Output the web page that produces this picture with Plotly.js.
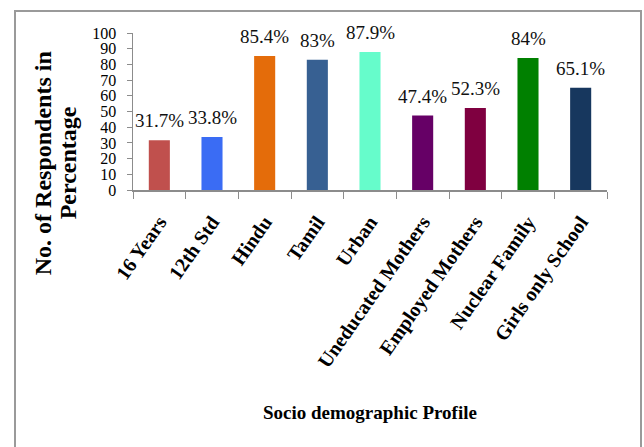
<!DOCTYPE html>
<html>
<head>
<meta charset="utf-8">
<script src="https://cdn.plot.ly/plotly-3.0.1.min.js"></script>
<style>
  html, body { margin: 0; padding: 0; background: #fff; }
  #wrap { position: relative; width: 644px; height: 447px; overflow: hidden; }
  #chart { position: absolute; left: 0; top: 0; width: 644px; height: 447px; }
  #frame { position: absolute; left: 14px; top: 10px; width: 628px; height: 470px;
           border: 2px solid #9a9a9a; pointer-events: none; box-sizing: border-box; }
</style>
</head>
<body>
<div id="wrap">
  <div id="chart"></div>
  <div id="frame"></div>
</div>
<script>
const categories = ["16 Years", "12th Std", "Hindu", "Tamil", "Urban",
                    "Uneducated Mothers", "Employed Mothers", "Nuclear Family", "Girls only School"];
const values = [31.7, 33.8, 85.4, 83, 87.9, 47.4, 52.3, 84, 65.1];
const valueLabels = ["31.7%", "33.8%", "85.4%", "83%", "87.9%", "47.4%", "52.3%", "84%", "65.1%"];
const barColors = ["#c0504d", "#3a6cf4", "#e46c0a", "#376092", "#66fccb",
                   "#660066", "#7f0040", "#008000", "#17375e"];
const yTicks = [0, 10, 20, 30, 40, 50, 60, 70, 80, 90, 100];
const xTitle = "Socio demographic Profile";
const yTitleLines = ["No. of Respondents in", "Percentage"];

const serif = "Liberation Serif, Times New Roman, serif";

const trace = {
  type: "bar",
  x: categories,
  y: values,
  marker: { color: barColors, line: { width: 0 } },
  hoverinfo: "skip"
};

const annotations = categories.map((c, i) => ({
  x: c, y: values[i], xref: "x", yref: "y",
  text: valueLabels[i], showarrow: false,
  xanchor: "center", yanchor: "bottom", yshift: 7,
  font: { family: serif, size: 19, color: "#111" }
}));

// y-axis title, two lines placed side by side (rotated)
const yTitleX = [-0.19, -0.137];
yTitleLines.forEach((t, i) => {
  annotations.push({
    xref: "paper", yref: "paper", x: yTitleX[i], y: 0.17,
    text: "<b>" + t + "</b>",
    textangle: -90, showarrow: false, xanchor: "center", yanchor: "middle",
    font: { family: serif, size: 24, color: "#000" }
  });
});
annotations.push({
  xref: "paper", yref: "paper", x: 0.5, y: -1.42,
  text: "<b>" + xTitle + "</b>", showarrow: false,
  xanchor: "center", yanchor: "middle",
  font: { family: serif, size: 19, color: "#000" }
});

const layout = {
  width: 644, height: 447,
  margin: { l: 133, r: 37, t: 33, b: 257 },
  paper_bgcolor: "#fff", plot_bgcolor: "#fff",
  showlegend: false,
  bargap: 0.6,
  xaxis: {
    type: "category",
    range: [-0.5, 8.5],
    showline: true, linecolor: "#8c8c8c", linewidth: 1.5,
    ticks: "outside", tickson: "boundaries", ticklen: 7, tickcolor: "#8c8c8c", tickwidth: 1,
    tickangle: -55,
    ticklabelstandoff: 11,
    tickfont: { family: serif, size: 20, color: "#000", weight: "bold" },
    showgrid: false, zeroline: false, fixedrange: true
  },
  yaxis: {
    range: [0, 100],
    tickmode: "array", tickvals: yTicks, ticktext: yTicks.map(String),
    showline: true, linecolor: "#8c8c8c", linewidth: 1.5,
    ticks: "outside", ticklen: 5, tickcolor: "#8c8c8c",
    ticklabelstandoff: 7,
    tickfont: { family: serif, size: 16, color: "#000" },
    showgrid: false, zeroline: false, fixedrange: true
  },
  annotations: annotations
};

Plotly.newPlot("chart", [trace], layout, { displayModeBar: false, staticPlot: true });
</script>
</body>
</html>
